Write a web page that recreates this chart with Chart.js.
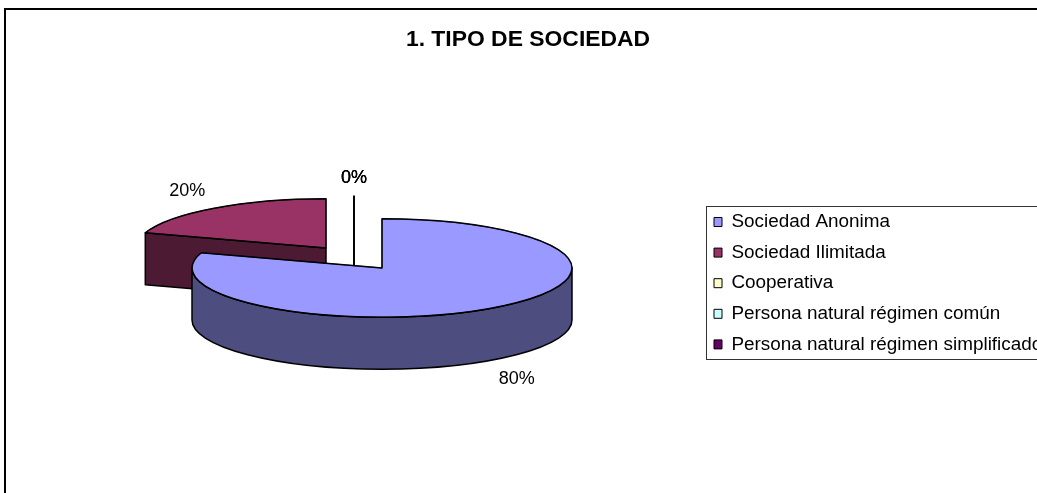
<!DOCTYPE html>
<html>
<head>
<meta charset="utf-8">
<title>1. TIPO DE SOCIEDAD</title>
<script src="https://cdn.jsdelivr.net/npm/chart.js@4"></script>
<style>
    html, body { margin: 0; padding: 0; background: #fff; overflow: hidden; }
    canvas { display: block; }
</style>
</head>
<body>
<canvas id="PieChart" width="1037" height="493"></canvas>
<script>
"use strict"

const chartTitle = "1. TIPO DE SOCIEDAD";
const sliceLabels = ["Sociedad Anonima", "Sociedad Ilimitada", "Cooperativa", "Persona natural régimen común", "Persona natural régimen simplificado"];
const sliceValues = [80, 20, 0, 0, 0];

const topColors = ["#9999FF", "#993366", "#FFFFCC", "#CCFFFF", "#660066"];
const sideColors = ["#4D4D80", "#4D1A33", "#808066", "#668080", "#330033"];

// how far each slice is pulled out of the pie, in pixels
const explodeX = [0, -56, -28, -28, -28];
const explodeY = [0, -20, -23, -23, -23];
// percent label position, measured from the slice rim
const labelGapX = [23, -27, 0, 0, 0];
const labelGapY = [19, -17, -18, -18, -18];

const fontName = "'Liberation Sans', Arial, sans-serif";
const tilt = 0.259;
const depth = 52;

// the pie is flattened and extruded by hand, Chart.js only has flat arcs
const pie3d = {
    id: "pie3d",
    afterLayout(chart) {
        const legend = chart.legend;
        legend.left = 702.3;
        legend.right = 1037;
        legend.top = 200.85;
        legend.bottom = 400;
        chart.titleBlock.left = 19;
        chart.titleBlock.right = 1037;
    },
    beforeDraw(chart) {
        const ctx = chart.ctx;
        ctx.save();
        ctx.fillStyle = "#fff";
        ctx.fillRect(0, 0, chart.width, chart.height);
        ctx.strokeStyle = "#000";
        ctx.lineWidth = 2;
        ctx.strokeRect(5, 9, 1100, 600);
        ctx.lineWidth = 1;
        ctx.strokeStyle = "#333";
        ctx.strokeRect(706.5, 206.5, 400, 153);
        ctx.restore();
    },
    beforeDatasetsDraw(chart) {
        const ctx = chart.ctx;
        const arcs = chart.getDatasetMeta(0).data;

        for (let i = arcs.length - 1; i >= 0; i--) {
            const arc = arcs[i];
            const x = arc.x + explodeX[i];
            const y = arc.y + explodeY[i];
            const rx = arc.outerRadius;
            const ry = rx * tilt;
            const rimX = a => x + Math.cos(a) * rx;
            const rimY = a => y + Math.sin(a) * ry;

            ctx.save();
            ctx.lineWidth = 1.5;
            ctx.strokeStyle = "#000";
            ctx.lineJoin = "round";

            if (arc.circumference === 0) {
                // empty slice only shows as a line
                ctx.beginPath();
                ctx.moveTo(rimX(arc.endAngle), rimY(arc.endAngle));
                ctx.lineTo(x, y);
                ctx.lineTo(x, y + depth);
                ctx.stroke();
                ctx.restore();
                continue;
            }

            ctx.fillStyle = sideColors[i];
            const flatWall = a => {
                ctx.beginPath();
                ctx.moveTo(x, y);
                ctx.lineTo(rimX(a), rimY(a));
                ctx.lineTo(rimX(a), rimY(a) + depth);
                ctx.lineTo(x, y + depth);
                ctx.closePath();
                ctx.fill();
                ctx.stroke();
            };
            if (Math.cos(arc.startAngle) < -0.001) flatWall(arc.startAngle);
            if (Math.cos(arc.endAngle) > 0.001) flatWall(arc.endAngle);

            // curved wall, only the front half of the rim can be seen
            const from = Math.max(arc.startAngle, 0);
            const to = Math.min(arc.endAngle, Math.PI);
            if (to > from) {
                ctx.beginPath();
                ctx.ellipse(x, y, rx, ry, 0, from, to);
                ctx.ellipse(x, y + depth, rx, ry, 0, to, from, true);
                ctx.closePath();
                ctx.fill();
                ctx.stroke();
            }

            // top face comes from the library arc
            ctx.save();
            ctx.translate(x, y);
            ctx.scale(1, tilt);
            ctx.translate(-arc.x, -arc.y);
            arc.draw(ctx);
            ctx.restore();

            ctx.beginPath();
            ctx.moveTo(x, y);
            ctx.ellipse(x, y, rx, ry, 0, arc.startAngle, arc.endAngle);
            ctx.closePath();
            ctx.stroke();
            ctx.restore();
        }

        const total = sliceValues.reduce((a, b) => a + b, 0);
        ctx.save();
        ctx.font = "18px " + fontName;
        ctx.fillStyle = "#000";
        ctx.textAlign = "center";
        ctx.textBaseline = "middle";
        arcs.forEach((arc, i) => {
            const mid = (arc.startAngle + arc.endAngle) / 2;
            const px = arc.x + explodeX[i] + Math.cos(mid) * arc.outerRadius + labelGapX[i];
            let py = arc.y + explodeY[i] + Math.sin(mid) * arc.outerRadius * tilt + labelGapY[i];
            if (Math.sin(mid) > 0) py += depth;
            ctx.fillText(Math.round(sliceValues[i] / total * 100) + "%", px, py);
        });
        ctx.restore();
        return false;
    }
};

new Chart("PieChart", {
    type: "pie",
    plugins: [pie3d],
    data: {
        labels: sliceLabels,
        datasets: [{
            data: sliceValues,
            backgroundColor: topColors,
            borderColor: "#000",
            borderWidth: 1,
            radius: 190
        }]
    },
    options: {
        responsive: false,
        animation: false,
        events: [],
        layout: {
            padding: { left: 0, right: 273, top: 0, bottom: 17 }
        },
        plugins: {
            title: {
                display: true,
                text: chartTitle,
                color: "#000",
                font: { family: fontName, size: 22.9, weight: "bold" },
                padding: { top: 26, bottom: 6.5 }
            },
            legend: {
                position: "chartArea",
                align: "start",
                labels: {
                    color: "#000",
                    font: { family: fontName, size: 18.9 },
                    boxWidth: 8,
                    boxHeight: 9,
                    padding: 11.7
                }
            },
            tooltip: { enabled: false }
        }
    }
});
</script>
</body>
</html>
